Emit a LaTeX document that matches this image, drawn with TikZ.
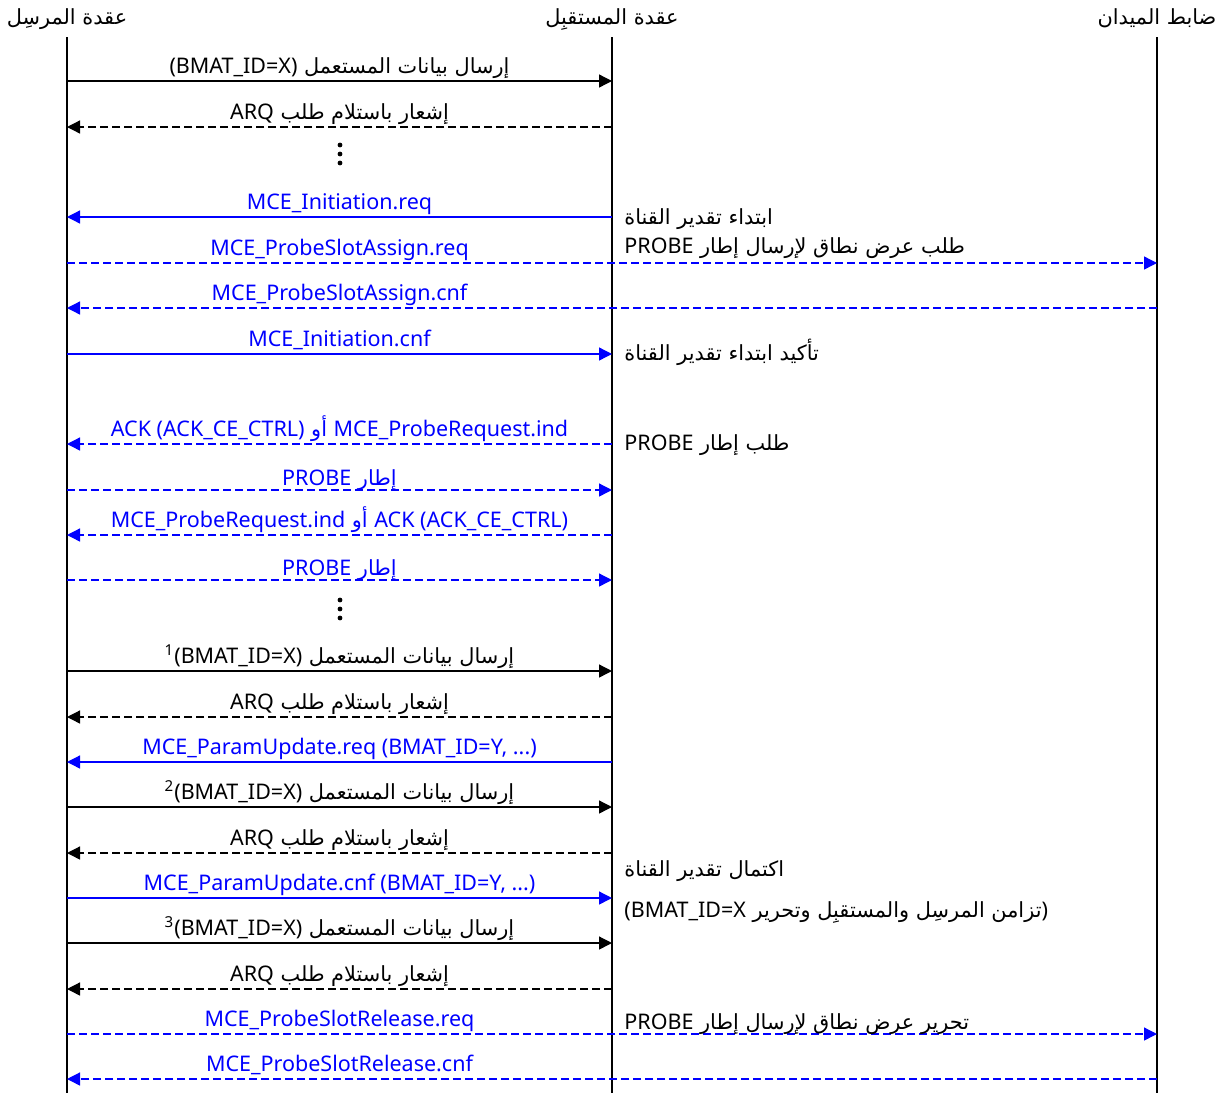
\documentclass[tikz,border=0pt]{standalone}
\usepackage{fontspec}
\setmainfont{Noto Sans}
\newfontfamily\arabicfont[Script=Arabic, Scale=0.97]{DejaVu Sans}
\TeXXeTstate=1
\usetikzlibrary{arrows.meta, positioning}

% Arabic run, with Latin pieces inside
\newcommand{\ar}[1]{{\arabicfont\beginR #1\endR}}
\newcommand{\lt}[1]{\beginL{\rmfamily #1}\endL}

\begin{document}
\begin{tikzpicture}[
    x=0.5pt, y=-0.5pt,
    font=\fontsize{10.75}{13}\selectfont,
    life/.style={line width=0.65pt},
    msg/.style={-{Triangle[length=6.5pt, width=6.5pt]}, line width=0.65pt},
    ret/.style={msg, dash pattern=on 4pt off 2pt},
    mce/.style={blue},
    lbl/.style={anchor=base, inner sep=0pt, yshift=4pt},
    lblp/.style={lbl, yshift=-1.5pt},
    note/.style={anchor=base west, inner sep=0pt}
  ]
  \useasboundingbox (0,0) rectangle (1225,1093);

  % heads and lifelines
  \node[anchor=base] (snd) at (67,24) {\ar{عقدة المرسِل}};
  \node[anchor=base] (rcv) at (612,24) {\ar{عقدة المستقبِل}};
  \node[anchor=base] (ctl) at (1157,24) {\ar{ضابط الميدان}};
  \foreach \x in {67,612,1157}
    \draw[life] (\x,37) -- (\x,1093);

  % one row per message
  \foreach \r/\y in {1/81, 2/127, 3/217, 4/263, 5/308, 6/354, 7/444,
                     8/490, 9/535, 10/580, 11/671, 12/717, 13/762,
                     14/807, 15/853, 16/898, 17/943, 18/989, 19/1034,
                     20/1079} {
    \coordinate (s\r) at (67,\y);
    \coordinate (r\r) at (612,\y);
    \coordinate (f\r) at (1157,\y);
  }

  \draw[msg] (s1) -- (r1)
    node[lbl, midway] {\ar{إرسال بيانات المستعمل \lt{(BMAT\_ID=X)}}};
  \draw[ret] (r2) -- (s2)
    node[lbl, midway] {\ar{إشعار باستلام طلب \lt{ARQ}}};
  \foreach \d in {145,154,163}
    \fill (340,\d) circle (2.4);

  \draw[msg, mce] (r3) -- (s3)
    node[lbl, midway] {MCE\_Initiation.req};
  \node[note] (init) at (624,224) {\ar{ابتداء تقدير القناة}};
  \draw[ret, mce] (s4) -- (f4)
    node[lbl, pos=.25] {MCE\_ProbeSlotAssign.req};
  \node[note] (slotreq) at (624,253) {\ar{طلب عرض نطاق لإرسال إطار \lt{PROBE}}};
  \draw[ret, mce] (f5) -- (s5)
    node[lbl, pos=.75] {MCE\_ProbeSlotAssign.cnf};
  \draw[msg, mce] (s6) -- (r6)
    node[lbl, midway] {MCE\_Initiation.cnf};
  \node[note] (initcnf) at (624,360) {\ar{تأكيد ابتداء تقدير القناة}};

  \draw[ret, mce] (r7) -- (s7)
    node[lbl, midway] {\ar{\lt{MCE\_ProbeRequest.ind} أو \lt{ACK (ACK\_CE\_CTRL)}}};
  \node[note] (probereq) at (624,450) {\ar{طلب إطار \lt{PROBE}}};
  \draw[ret, mce] (s8) -- (r8)
    node[lblp, midway] {\ar{إطار \lt{PROBE}}};
  \draw[ret, mce] (r9) -- (s9)
    node[lbl, midway] {\ar{\lt{ACK (ACK\_CE\_CTRL)} أو \lt{MCE\_ProbeRequest.ind}}};
  \draw[ret, mce] (s10) -- (r10)
    node[lblp, midway] {\ar{إطار \lt{PROBE}}};
  \foreach \d in {600,609,618}
    \fill (340,\d) circle (2.4);

  \draw[msg] (s11) -- (r11)
    node[lbl, midway] {\ar{إرسال بيانات المستعمل \lt{\textsuperscript{1}(BMAT\_ID=X)}}};
  \draw[ret] (r12) -- (s12)
    node[lbl, midway] {\ar{إشعار باستلام طلب \lt{ARQ}}};
  \draw[msg, mce] (r13) -- (s13)
    node[lbl, midway] {MCE\_ParamUpdate.req (BMAT\_ID=Y, ...)};
  \draw[msg] (s14) -- (r14)
    node[lbl, midway] {\ar{إرسال بيانات المستعمل \lt{\textsuperscript{2}(BMAT\_ID=X)}}};
  \draw[ret] (r15) -- (s15)
    node[lbl, midway] {\ar{إشعار باستلام طلب \lt{ARQ}}};
  \draw[msg, mce] (s16) -- (r16)
    node[lbl, midway] {MCE\_ParamUpdate.cnf (BMAT\_ID=Y, ...)};
  \node[note] (done) at (624,876) {\ar{اكتمال تقدير القناة}};
  \node[note] (sync) at (624,917) {\ar{\lt{)}تزامن المرسِل والمستقبِل وتحرير \lt{(BMAT\_ID=X}}};
  \draw[msg] (s17) -- (r17)
    node[lbl, midway] {\ar{إرسال بيانات المستعمل \lt{\textsuperscript{3}(BMAT\_ID=X)}}};
  \draw[ret] (r18) -- (s18)
    node[lbl, midway] {\ar{إشعار باستلام طلب \lt{ARQ}}};

  \draw[ret, mce] (s19) -- (f19)
    node[lbl, pos=.25] {MCE\_ProbeSlotRelease.req};
  \node[note] (slotrel) at (624,1029) {\ar{تحرير عرض نطاق لإرسال إطار \lt{PROBE}}};
  \draw[ret, mce] (f20) -- (s20)
    node[lbl, pos=.75] {MCE\_ProbeSlotRelease.cnf};
\end{tikzpicture}
\end{document}
